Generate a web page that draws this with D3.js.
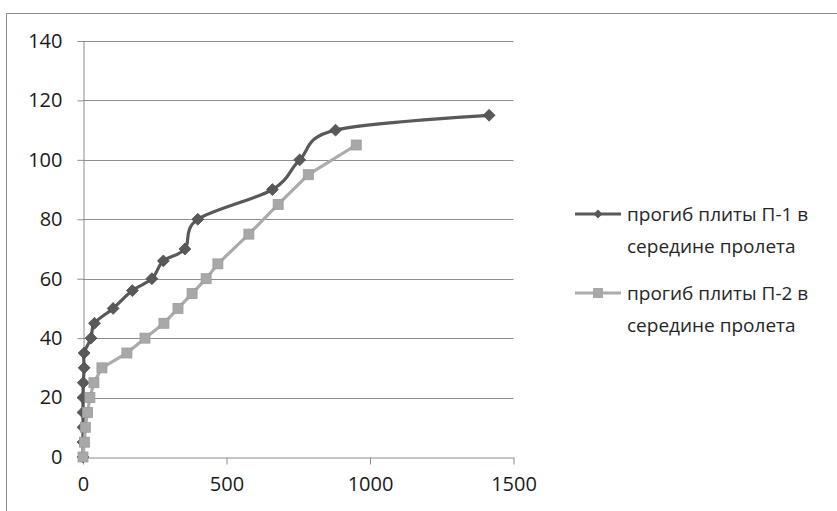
<!DOCTYPE html>
<html><head><meta charset="utf-8">
<script src="https://cdn.jsdelivr.net/npm/d3@7"></script>
<style>body{margin:0;background:#fff}svg{display:block}</style>
</head><body>
<svg id="c" width="837" height="511"></svg>
<script>
// Series 1: прогиб плиты П-1 (x = прогиб, y = нагрузка)
const s1x = [0, 0, 0, 0, 0, 1, 4, 4, 28, 40, 105, 172, 240, 280, 355, 400, 660, 755, 880, 1415];
const s1y = [0, 5, 10, 15, 20, 25, 30, 35, 40, 45, 50, 56, 60, 66, 70, 80, 90, 100, 110, 115];
// Series 2: прогиб плиты П-2
const s2x = [0, 5, 8, 16, 24, 38, 66, 153, 216, 282, 331, 380, 429, 470, 578, 680, 785, 952];
const s2y = [0, 5, 10, 15, 20, 25, 30, 35, 40, 45, 50, 55, 60, 65, 75, 85, 95, 105];
const xTicks = [0, 500, 1000, 1500];
const yTicks = [0, 20, 40, 60, 80, 100, 120, 140];
const legendNames = [["прогиб плиты П-1 в", "середине пролета"], ["прогиб плиты П-2 в", "середине пролета"]];

const svg = d3.select("#c");
const L = 83, R = 513.5, T = 41, B = 457;
const x = d3.scaleLinear().domain([0, 1500]).range([L, R]);
const y = d3.scaleLinear().domain([0, 140]).range([B, T]);
const font = "'Open Sans', sans-serif";
const gridC = "#8c8c8c";

svg.append("rect").attr("x", 6.5).attr("y", 13.5).attr("width", 900).attr("height", 600)
  .attr("fill", "none").attr("stroke", gridC).attr("stroke-width", 1);

// gridlines
svg.append("g").selectAll("line").data(yTicks.filter(d => d > 0)).join("line")
  .attr("x1", L).attr("x2", R).attr("y1", d => Math.round(y(d)) + 0.5).attr("y2", d => Math.round(y(d)) + 0.5)
  .attr("stroke", gridC).attr("stroke-width", 1);

// y axis
const ya = svg.append("g").attr("transform", `translate(${Math.round(L) + 0.5},0)`)
  .call(d3.axisLeft(y).tickValues(yTicks).tickFormat(d3.format("d")).tickSize(6).tickSizeOuter(0).tickPadding(15));
ya.select(".domain").attr("stroke", gridC);
ya.selectAll(".tick line").attr("stroke", gridC);
ya.selectAll(".tick text").attr("font-family", font).attr("font-size", 20).attr("fill", "#1a1a1a");

// x axis
const xa = svg.append("g").attr("transform", `translate(0,${Math.round(B) + 0.5})`)
  .call(d3.axisBottom(x).tickValues(xTicks).tickFormat(d3.format("d")).tickSize(7).tickSizeOuter(0).tickPadding(12));
xa.select(".domain").attr("stroke", gridC);
xa.selectAll(".tick line").attr("stroke", gridC);
xa.selectAll(".tick text").attr("font-family", font).attr("font-size", 20).attr("fill", "#1a1a1a");

const d1 = s1x.map((v, i) => [v, s1y[i]]);
const d2 = s2x.map((v, i) => [v, s2y[i]]);
const c1 = "#595959", c2 = "#ababab";

const line1 = d3.line().x(d => x(d[0])).y(d => y(d[1])).curve(d3.curveCardinal.tension(0));
const line2 = d3.line().x(d => x(d[0])).y(d => y(d[1])).curve(d3.curveLinear);

svg.append("path").attr("d", line1(d1)).attr("fill", "none").attr("stroke", c1).attr("stroke-width", 3.2).attr("stroke-linejoin", "round");
const diamond = d3.symbol().type(d3.symbolDiamond2).size(90);
svg.append("g").selectAll("path").data(d1).join("path")
  .attr("d", diamond).attr("transform", d => `translate(${x(d[0])},${y(d[1])})`)
  .attr("fill", c1).attr("stroke", "#4a4a4a").attr("stroke-width", 0.8);

svg.append("path").attr("d", line2(d2)).attr("fill", "none").attr("stroke", c2).attr("stroke-width", 3.2).attr("stroke-linejoin", "round");
svg.append("g").selectAll("rect").data(d2).join("rect")
  .attr("x", d => x(d[0]) - 5).attr("y", d => y(d[1]) - 5).attr("width", 10).attr("height", 10)
  .attr("fill", "#a8a8a8").attr("stroke", "#9c9c9c").attr("stroke-width", 0.8);

// legend
const lg = svg.append("g");
const entryY = [214, 293];
legendNames.forEach((names, i) => {
  const yy = entryY[i];
  const col = i === 0 ? c1 : c2;
  lg.append("line").attr("x1", 575).attr("x2", 621).attr("y1", yy).attr("y2", yy).attr("stroke", col).attr("stroke-width", 3);
  if (i === 0) {
    lg.append("path").attr("d", d3.symbol().type(d3.symbolDiamond2).size(50)).attr("transform", `translate(598,${yy})`).attr("fill", c1);
  } else {
    lg.append("rect").attr("x", 593).attr("y", yy - 5).attr("width", 10).attr("height", 10).attr("fill", "#a8a8a8");
  }
  names.forEach((t, j) => {
    lg.append("text").attr("x", 627).attr("y", yy + j * 32).attr("dy", "0.35em")
      .attr("font-family", font).attr("font-size", 19).attr("fill", "#262626").text(t);
  });
});
</script>
</body></html>
